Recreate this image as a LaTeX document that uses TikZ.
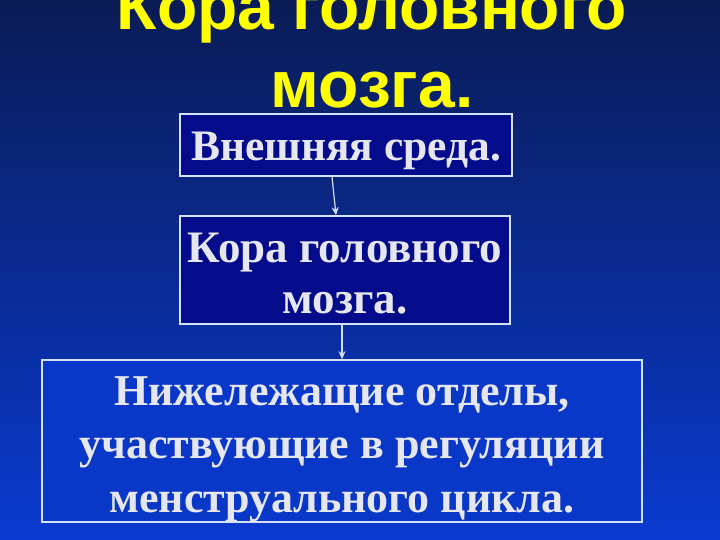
\documentclass[tikz,border=0pt]{standalone}
\usepackage{fontspec}
\setmainfont{Liberation Serif}
\newfontfamily\titlefont{Liberation Sans}
\usetikzlibrary{arrows.meta, calc}

\definecolor{bgtop}{HTML}{0A1B55}
\definecolor{bgmid}{HTML}{0B2C9E}
\definecolor{bgbot}{HTML}{0A3AD0}
\definecolor{darkfill}{HTML}{040C8C}
\definecolor{lowfill}{HTML}{0937C8}
\definecolor{edge}{HTML}{D4E2F4}
\definecolor{txt}{HTML}{E6E6EE}
\definecolor{titlecol}{HTML}{FFFF00}

\tikzset{
  box/.style={draw=edge, line width=1.6bp, align=center, text=txt, inner sep=0pt, text depth=0pt},
  arr/.style={-{Stealth[length=8bp,width=7bp]}, draw=edge, line width=1.2bp},
}

\begin{document}
\begin{tikzpicture}[x=1bp, y=-1bp]
      \useasboundingbox (0,0) rectangle (720,540);
      \shade[top color=bgtop, middle color=bgmid, bottom color=bgbot] (0,0) rectangle (720,540);

      \node[anchor=base, align=center, text=titlecol,
            font=\titlefont\bfseries\fontsize{66bp}{78bp}\selectfont] (title) at (372,108)
            {Кора головного\\мозга.};

      \node[box, fill=darkfill, minimum width=332bp, minimum height=62bp, text height=32bp,
            font=\bfseries\fontsize{43.5bp}{53bp}\selectfont] (ext) at (346,145) {Внешняя среда.};
      \node[box, fill=darkfill, minimum width=330bp, minimum height=108bp, text height=86bp,
            font=\bfseries\fontsize{45bp}{51bp}\selectfont] (cortex) at (345,270) {Кора головного\\мозга.};
      \node[box, fill=lowfill, minimum width=600bp, minimum height=162bp, text height=142bp,
            font=\bfseries\fontsize{44bp}{53.5bp}\selectfont] (lower) at (342,441)
            {Нижележащие отделы,\\участвующие в регуляции\\менструального цикла.};

      \draw[arr] ($(ext.south)+(-14,0)$) -- ($(cortex.north)+(-9,0)$);
      \draw[arr] ($(cortex.south)+(-3,0)$) -- (lower.north);
\end{tikzpicture}
\end{document}
